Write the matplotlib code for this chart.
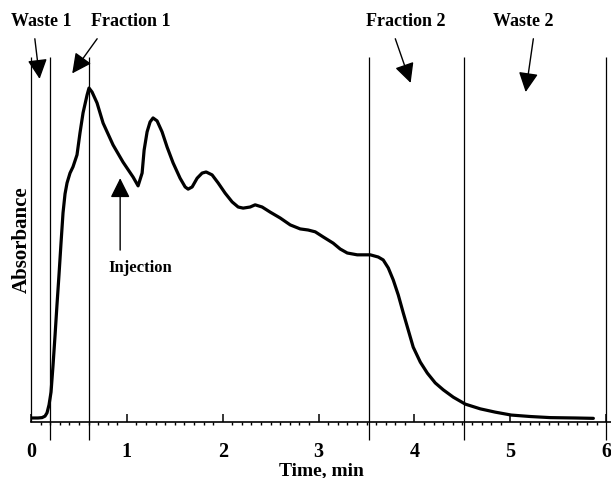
import numpy as np
import matplotlib.pyplot as plt
from matplotlib.ticker import MultipleLocator

# chromatogram trace, time in min, absorbance in arbitrary units
time_min = [0.000, 0.073, 0.115, 0.146, 0.167, 0.188, 0.209, 0.230, 0.251, 0.271,
            0.292, 0.313, 0.334, 0.355, 0.376, 0.407, 0.438, 0.480, 0.511, 0.543,
            0.585, 0.605, 0.637, 0.689, 0.752, 0.856, 0.960, 1.065, 1.117, 1.159,
            1.180, 1.211, 1.242, 1.273, 1.315, 1.367, 1.420, 1.482, 1.555, 1.608,
            1.639, 1.681, 1.733, 1.785, 1.827, 1.889, 1.952, 2.025, 2.098, 2.161,
            2.213, 2.286, 2.338, 2.411, 2.495, 2.599, 2.704, 2.808, 2.891, 2.965,
            3.048, 3.152, 3.225, 3.299, 3.403, 3.539, 3.622, 3.674, 3.727, 3.779,
            3.831, 3.883, 3.935, 3.987, 4.061, 4.134, 4.217, 4.301, 4.405, 4.530,
            4.687, 4.843, 5.010, 5.209, 5.418, 5.678, 5.866]
absorbance = [0.011, 0.011, 0.012, 0.016, 0.025, 0.047, 0.082, 0.156, 0.238, 0.321,
              0.403, 0.490, 0.573, 0.625, 0.655, 0.682, 0.699, 0.732, 0.792, 0.847,
              0.896, 0.915, 0.904, 0.874, 0.819, 0.759, 0.712, 0.671, 0.647, 0.682,
              0.745, 0.795, 0.822, 0.833, 0.825, 0.795, 0.753, 0.710, 0.668, 0.644,
              0.638, 0.644, 0.668, 0.682, 0.685, 0.677, 0.655, 0.627, 0.603, 0.589,
              0.586, 0.589, 0.595, 0.589, 0.575, 0.559, 0.540, 0.529, 0.526, 0.521,
              0.507, 0.490, 0.474, 0.463, 0.458, 0.458, 0.452, 0.444, 0.422, 0.389,
              0.348, 0.299, 0.252, 0.205, 0.164, 0.134, 0.107, 0.088, 0.068, 0.049,
              0.036, 0.027, 0.019, 0.015, 0.012, 0.011, 0.010]

# fraction cut points (min)
cut_times = [0.2, 0.6, 3.53, 4.52, 6.0]

# region labels: text, label position, arrow tail and tip (time, absorbance)
region_labels = ["Waste 1", "Fraction 1", "Fraction 2", "Waste 2"]
label_pos = [(0.11, 1.096), (1.04, 1.096), (3.91, 1.096), (5.13, 1.096)]
label_tail = [(0.04, 1.05), (0.69, 1.05), (3.80, 1.05), (5.24, 1.05)]
label_tip = [(0.09, 0.940), (0.43, 0.955), (3.96, 0.929), (5.16, 0.904)]

inj_tip = (0.93, 0.668)
inj_tail = (0.93, 0.471)
inj_text = (1.14, 0.422)

plt.rcParams['font.family'] = ['Liberation Serif', 'DejaVu Serif']
plt.rcParams['font.weight'] = 'bold'

fig = plt.figure(figsize=(6.11, 4.78), dpi=100)
ax = fig.add_axes([31 / 611, 56 / 478, 580 / 611, 365 / 478])

ax.plot(time_min, absorbance, color='black', lw=2.3,
        solid_joinstyle='round', solid_capstyle='round')

# left edge line and cut lines (cut lines run below the axis)
ax.vlines(0, 0, 1, color='black', lw=0.9, clip_on=False)
ax.vlines(cut_times, -0.05, 1, color='black', lw=0.9, clip_on=False)

arrow = dict(arrowstyle='-|>,head_length=0.8,head_width=0.4', color='black',
             lw=1.0, mutation_scale=15, shrinkA=0, shrinkB=0)
for text, pos, tail, tip in zip(region_labels, label_pos, label_tail, label_tip):
    ax.text(pos[0], pos[1], text, ha='center', va='center', fontsize=13,
            fontweight='bold', clip_on=False)
    ax.annotate('', xy=tip, xytext=tail, arrowprops=arrow, annotation_clip=False)

ax.annotate('', xy=inj_tip, xytext=inj_tail, arrowprops=arrow)
ax.text(inj_text[0], inj_text[1], 'Injection', ha='center', va='center',
        fontsize=12, fontweight='bold')

ax.set_xlim(0, 6.05)
ax.set_ylim(0, 1)
for side in ['left', 'right', 'top']:
    ax.spines[side].set_visible(False)
ax.spines['bottom'].set_linewidth(1.2)
ax.set_yticks([])
ax.xaxis.set_major_locator(MultipleLocator(1))
ax.xaxis.set_minor_locator(MultipleLocator(0.1))
ax.tick_params(axis='x', which='major', direction='in', length=5.5, width=1.1,
               pad=14.5, labelsize=14.5)
ax.tick_params(axis='x', which='minor', direction='out', length=2.5, width=1.0)
for lab in ax.get_xticklabels():
    lab.set_fontweight('bold')

ax.set_xlabel('Time, min', fontsize=14, fontweight='bold')
ax.xaxis.set_label_coords(0.5, -0.133)
ax.xaxis.label.set_va('center')
ax.set_ylabel('Absorbance', fontsize=15, fontweight='bold')
ax.yaxis.set_label_coords(-0.016, 0.50)
ax.yaxis.label.set_va('center')

fig.savefig('out.png', dpi=100)
